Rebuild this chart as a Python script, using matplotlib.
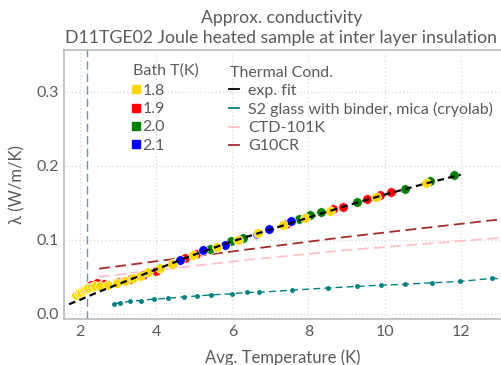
import matplotlib
matplotlib.use("Agg")
import matplotlib.pyplot as plt
from matplotlib.lines import Line2D

# measured points, grouped by bath temperature
t_18 = [1.90, 1.97, 2.03, 2.09, 2.15, 2.22, 2.30, 2.40, 2.52, 2.74, 2.96, 3.18, 3.40,
        3.57, 3.79, 4.10, 4.41, 4.97, 5.59, 6.16, 6.68, 7.32, 7.91, 8.56, 9.77, 11.08]
k_18 = [0.025, 0.028, 0.030, 0.032, 0.034, 0.035, 0.036, 0.037, 0.038, 0.039, 0.042,
        0.045, 0.048, 0.051, 0.056, 0.062, 0.067, 0.080, 0.090, 0.100, 0.109, 0.120,
        0.130, 0.139, 0.158, 0.177]
t_19 = [2.28, 2.45, 2.62, 3.00, 3.35, 3.66, 4.00, 4.45, 4.76, 5.05, 6.25, 7.42, 8.65,
        8.91, 9.53, 9.87, 10.18]
k_19 = [0.039, 0.041, 0.040, 0.043, 0.047, 0.052, 0.058, 0.068, 0.076, 0.081, 0.102,
        0.122, 0.142, 0.145, 0.155, 0.160, 0.164]
t_20 = [5.41, 5.96, 6.29, 7.76, 8.04, 8.33, 9.28, 10.55, 11.19, 11.82]
k_20 = [0.088, 0.098, 0.103, 0.128, 0.133, 0.137, 0.151, 0.1685, 0.179, 0.187]
t_21 = [4.62, 5.24, 5.81, 6.65, 6.97, 7.53]
k_21 = [0.073, 0.086, 0.093, 0.108, 0.114, 0.126]

# fit curve
t_fit = [1.71, 2.0, 2.5, 3.0, 3.5, 4.0, 4.5, 5.0, 5.5, 6.0, 7.0, 8.0, 9.0, 10.0, 11.0, 12.0]
k_fit = [0.013, 0.019, 0.030, 0.040, 0.050, 0.060, 0.070, 0.080, 0.089, 0.098, 0.114,
         0.130, 0.146, 0.161, 0.175, 0.188]

# reference materials
t_s2 = [2.89, 3.05, 3.32, 3.60, 3.93, 4.32, 4.72, 5.07, 5.44, 5.99, 6.39, 6.69, 7.57,
        8.52, 9.28, 9.91, 10.55, 11.25, 11.98, 12.83, 13.1]
k_s2 = [0.0135, 0.015, 0.017, 0.018, 0.020, 0.021, 0.023, 0.024, 0.0257, 0.027, 0.029,
        0.029, 0.032, 0.035, 0.037, 0.0388, 0.040, 0.042, 0.0437, 0.048, 0.047]
t_ctd = [2.5, 4.0, 6.4, 9.0, 13.1]
k_ctd = [0.050, 0.059, 0.073, 0.086, 0.103]
t_g10 = [2.5, 6.4, 9.0, 13.1]
k_g10 = [0.061, 0.087, 0.104, 0.128]

t_lambda = 2.17

grey = "#5a5a5a"
plt.rcParams["font.family"] = ["Lato", "DejaVu Sans"]
plt.rcParams["font.size"] = 11.5

fig = plt.figure(figsize=(5.01, 3.65), dpi=100)
ax = fig.add_axes([0.128, 0.126, 0.872, 0.738])

ax.axvline(t_lambda, color="#7890aa", ls=(0, (6, 3)), lw=1.0, zorder=1)

ax.plot(t_s2, k_s2, color="#008080", ls=(0, (5, 3)), lw=1.0, marker="o", ms=2.5, zorder=2)
ax.plot(t_ctd, k_ctd, color="#ffc0cb", ls=(0, (6, 3)), lw=1.3, zorder=2)
ax.plot(t_g10, k_g10, color="#a52a2a", ls=(0, (6, 3)), lw=1.3, zorder=2)

groups = [(t_19, k_19, "red"), (t_20, k_20, "green"), (t_21, k_21, "blue"), (t_18, k_18, "gold")]
for t, k, c in groups:
    ax.scatter(t, k, s=48, color=c, edgecolor="white", linewidth=0.5, zorder=3)

ax.plot(t_fit, k_fit, color="black", ls=(0, (3, 2)), lw=1.6, zorder=4)

ax.set_xlim(1.58, 13.06)
ax.set_ylim(-0.007, 0.357)
ax.set_xticks([2, 4, 6, 8, 10, 12])
ax.set_yticks([0.0, 0.1, 0.2, 0.3])
ax.set_yticklabels(["0.0", "0.1", "0.2", "0.3"])
ax.tick_params(length=0, colors=grey, labelsize=11.5, pad=4)
ax.grid(True, color="#dddddd", ls=":", lw=1.0)
ax.set_axisbelow(True)
for side in ["left", "bottom", "top"]:
    ax.spines[side].set_color("#bbbbbb")
    ax.spines[side].set_linewidth(1.2)
ax.spines["right"].set_visible(False)

ax.set_xlabel("Avg. Temperature (K)", color=grey, fontsize=12, labelpad=8)
ax.set_ylabel("λ (W/m/K)", color=grey, fontsize=12, labelpad=8)
ax.set_title("Approx. conductivity\nD11TGE02 Joule heated sample at inter layer insulation",
             color=grey, fontsize=12.7, linespacing=1.25, pad=5, x=0.497)

# legend titles as plain text so the gap to the rows can be set
ax.text(0.158, 0.921, "Bath T(K)", transform=ax.transAxes, va="center", ha="left",
        color=grey, fontsize=11.5)
ax.text(0.380, 0.912, "Thermal Cond.", transform=ax.transAxes, va="center", ha="left",
        color=grey, fontsize=11.5)

bath_labels = ["1.8", "1.9", "2.0", "2.1"]
bath_colors = ["gold", "red", "green", "blue"]
h1 = [Line2D([], [], ls="", marker="s", ms=5.5, color=c) for c in bath_colors]
leg1 = ax.legend(h1, bath_labels, loc="upper left",
                 bbox_to_anchor=(0.155, 0.873), frameon=False, handlelength=0.5,
                 handletextpad=0.15, labelspacing=0.25, borderpad=0, borderaxespad=0,
                 fontsize=11.5, labelcolor=grey)
ax.add_artist(leg1)

ref_labels = ["exp. fit", "S2 glass with binder, mica (cryolab)", "CTD-101K", "G10CR"]
ref_colors = ["black", "#008080", "#ffc0cb", "#a52a2a"]
h2 = [Line2D([], [], color=c, lw=1.3) for c in ref_colors]
leg2 = ax.legend(h2, ref_labels, loc="upper left",
                 bbox_to_anchor=(0.378, 0.873), frameon=False, handlelength=0.6,
                 handletextpad=0.6, labelspacing=0.25, borderpad=0, borderaxespad=0,
                 fontsize=11.5, labelcolor=grey)

fig.savefig("out.png", dpi=100)
